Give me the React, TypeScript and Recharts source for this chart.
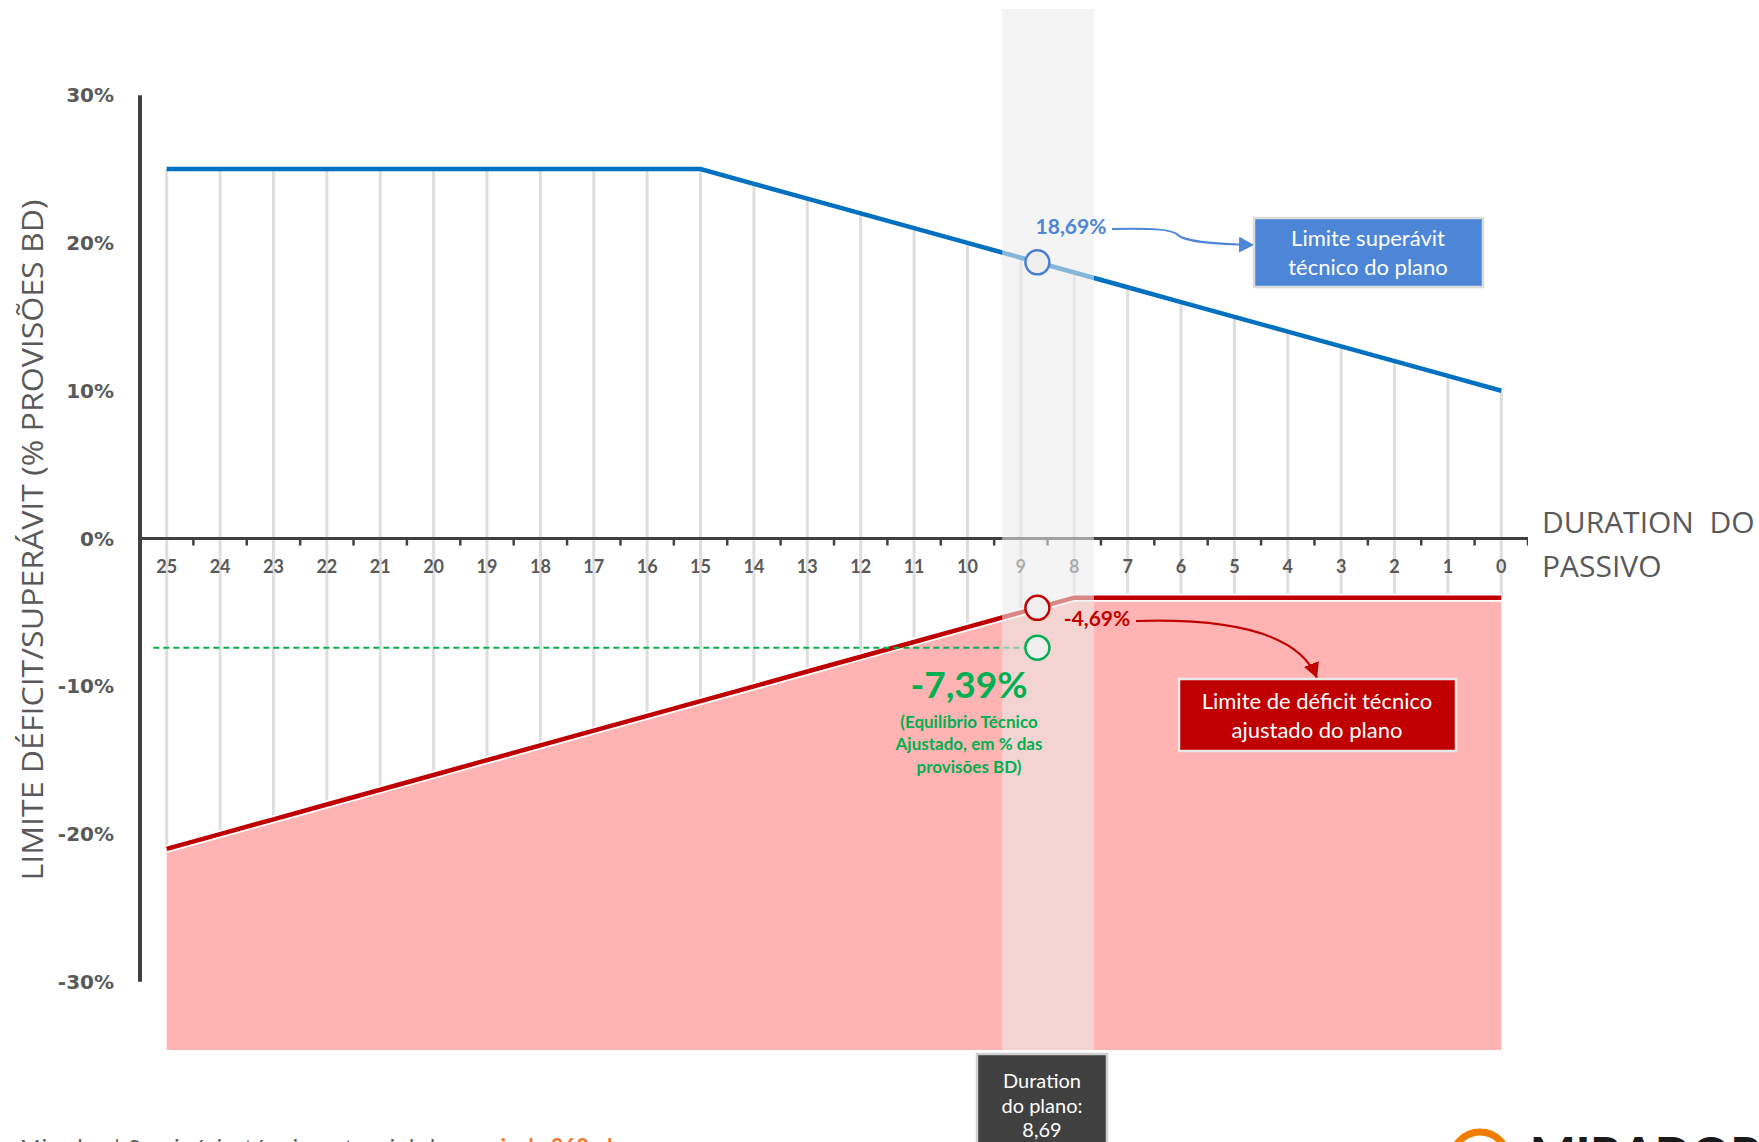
import React from "react";
import {
  ComposedChart, Line, Area, Scatter, XAxis, YAxis,
  ReferenceLine, ReferenceArea, ReferenceDot,
} from "recharts";

const W = 1759;
const H = 1142;
const GRAY = "#595959";
const AXIS = "#404040";
const BLUE = "#0070c0";
const RED = "#c00000";
const GREEN = "#00b050";
const BOX_BLUE = "#4d86d6";
const LATO = "Lato, 'Open Sans', sans-serif";

// duration do passivo (anos) – eixo invertido, 25 à esquerda
const DURATIONS = [25, 24, 23, 22, 21, 20, 19, 18, 17, 16, 15, 14, 13, 12, 11, 10, 9, 8, 7, 6, 5, 4, 3, 2, 1, 0];
// limite de superávit técnico (% provisões BD)
const SUPERAVIT = [25, 25, 25, 25, 25, 25, 25, 25, 25, 25, 25, 24, 23, 22, 21, 20, 19, 18, 17, 16, 15, 14, 13, 12, 11, 10];
// limite de déficit técnico ajustado (% provisões BD)
const DEFICIT = [-21, -20, -19, -18, -17, -16, -15, -14, -13, -12, -11, -10, -9, -8, -7, -6, -5, -4, -4, -4, -4, -4, -4, -4, -4, -4];
const Y_TICKS = [-30, -20, -10, 0, 10, 20, 30];

// situação do plano
const PLAN_DURATION = 8.69;
const PLAN_SUPERAVIT = 18.69;
const PLAN_DEFICIT = -4.69;
const PLAN_EQUILIBRIO = -7.39;
const BAND = [9.35, 7.63];
const EQ_LINE_START = 25.25;

const rows = DURATIONS.map((d, i) => ({ d, sup: SUPERAVIT[i], def: DEFICIT[i] }));
const labelRows = DURATIONS.map((d) => ({ d, zero: 0 }));
const tickRows = [...DURATIONS.map((d) => d + 0.5), -0.5].map((d) => ({ d, zero: 0 }));

const DurLabel = (p: any) => (
  <text x={p.cx} y={p.cy + 34} textAnchor="middle" fontFamily={LATO} fontWeight={700} fontSize={18} fill={GRAY}>
    {p.payload.d}
  </text>
);

const TickMark = (p: any) => (
  <line x1={p.cx} x2={p.cx} y1={p.cy} y2={p.cy + 7} stroke={AXIS} strokeWidth={2.5} />
);

function Annotations() {
  return (
    <svg width={W} height={H} style={{ position: "absolute", left: 0, top: 0, pointerEvents: "none" }}>
      <defs>
        <marker id="arrBlue" markerUnits="userSpaceOnUse" markerWidth={16} markerHeight={16} refX={15} refY={8} orient="auto">
          <path d="M0,0 L15,8 L0,16 z" fill={BOX_BLUE} />
        </marker>
        <marker id="arrRed" markerUnits="userSpaceOnUse" markerWidth={16} markerHeight={16} refX={15} refY={8} orient="auto">
          <path d="M0,0 L15,8 L0,16 z" fill={RED} />
        </marker>
      </defs>

      {/* títulos dos eixos */}
      <text
        transform="translate(43,540) rotate(-90)"
        textAnchor="middle"
        fontFamily="'Liberation Sans Narrow', 'Open Sans', sans-serif"
        fontSize={29}
        fill={GRAY}
        textLength={681}
        lengthAdjust="spacingAndGlyphs"
      >
        LIMITE DÉFICIT/SUPERÁVIT  (% PROVISÕES BD)
      </text>
      <text x={1542} y={533} fontFamily="'Open Sans', sans-serif" fontSize={30} fill={GRAY} style={{ whiteSpace: "pre" }}>
        DURATION  DO
      </text>
      <text x={1542} y={577} fontFamily="'Open Sans', sans-serif" fontSize={30} fill={GRAY}>PASSIVO</text>

      {/* superávit */}
      <text x={1071} y={234} textAnchor="middle" fontFamily={LATO} fontWeight={700} fontSize={21} fill={BOX_BLUE}>18,69%</text>
      <path d="M1112,229 C1150,228 1172,229 1178,235 C1185,242 1215,244 1254,245" fill="none" stroke={BOX_BLUE} strokeWidth={2} markerEnd="url(#arrBlue)" />
      <rect x={1254} y={218} width={229} height={69} fill={BOX_BLUE} stroke="#dcdcdc" strokeWidth={2.5} />
      <text x={1368} y={246} textAnchor="middle" fontFamily={LATO} fontSize={22} fill="#fff">Limite superávit</text>
      <text x={1368} y={275} textAnchor="middle" fontFamily={LATO} fontSize={22} fill="#fff">técnico do plano</text>

      {/* déficit */}
      <text x={1097} y={626} textAnchor="middle" fontFamily={LATO} fontWeight={700} fontSize={21} fill={RED}>-4,69%</text>
      <path d="M1136,621 C1235,618 1300,635 1317,678" fill="none" stroke={RED} strokeWidth={2.2} markerEnd="url(#arrRed)" />
      <rect x={1179} y={679} width={277} height={72} fill={RED} stroke="#e8e8e8" strokeWidth={2.5} />
      <text x={1317} y={709} textAnchor="middle" fontFamily={LATO} fontSize={22} fill="#fff">Limite de déficit técnico</text>
      <text x={1317} y={738} textAnchor="middle" fontFamily={LATO} fontSize={22} fill="#fff">ajustado do plano</text>

      {/* equilíbrio técnico */}
      <text x={969} y={698} textAnchor="middle" fontFamily={LATO} fontWeight={700} fontSize={37} fill={GREEN}>-7,39%</text>
      <text x={969} y={728} textAnchor="middle" fontFamily={LATO} fontWeight={700} fontSize={17} fill={GREEN}>(Equilíbrio Técnico</text>
      <text x={969} y={750} textAnchor="middle" fontFamily={LATO} fontWeight={700} fontSize={17} fill={GREEN}>Ajustado, em % das</text>
      <text x={969} y={773} textAnchor="middle" fontFamily={LATO} fontWeight={700} fontSize={17} fill={GREEN}>provisões BD)</text>

      {/* duration do plano */}
      <rect x={977} y={1054} width={130} height={110} fill="#404040" stroke="#d0d0d0" strokeWidth={2.5} />
      <text x={1042} y={1088} textAnchor="middle" fontFamily={LATO} fontSize={20} fill="#fff">Duration</text>
      <text x={1042} y={1113} textAnchor="middle" fontFamily={LATO} fontSize={20} fill="#fff">do plano:</text>
      <text x={1042} y={1137} textAnchor="middle" fontFamily={LATO} fontSize={20} fill="#fff">8,69</text>

      {/* rodapé */}
      <text x={20} y={1155} fontFamily={LATO} fontSize={22} fill={GRAY} textLength={429} lengthAdjust="spacing">
        Mirador | Seminário técnico atuarial do
      </text>
      <text x={471} y={1155} fontFamily={LATO} fontSize={22} fontWeight={700} fill="#ed7d31">mais de 260 planos</text>
      <path d="M1452,1160 A28,28 0 0 1 1508,1160" fill="none" stroke="#f07d00" strokeWidth={7} />
      <text x={1530} y={1172} fontFamily={LATO} fontWeight={900} fontSize={48} fill="#1a1a1a">MIRADOR</text>
    </svg>
  );
}

export default function App() {
  return (
    <div style={{ position: "absolute", left: 0, top: 0, width: W, height: H, background: "#fff", overflow: "hidden" }}>
      <ComposedChart width={W} height={H} data={rows} margin={{ top: 9, right: 231, bottom: 92, left: 0 }}>
        <XAxis type="number" dataKey="d" domain={[-0.5, 25.5]} reversed hide allowDataOverflow />
        <YAxis
          type="number"
          width={140}
          domain={[-34.61, 35.83]}
          allowDataOverflow
          ticks={Y_TICKS}
          tickFormatter={(v: number) => `${v}%`}
          axisLine={false}
          tickLine={false}
          tickSize={0}
          tickMargin={26}
          tick={{ fill: GRAY, fontSize: 20, fontWeight: 700, fontFamily: "'DejaVu Sans', sans-serif" }}
        />

        {/* linhas verticais entre os limites */}
        {rows.map((r) => (
          <ReferenceLine
            key={`drop-${r.d}`}
            segment={[{ x: r.d, y: r.def }, { x: r.d, y: r.sup }]}
            stroke="#dedede"
            strokeWidth={3}
            ifOverflow="visible"
            zIndex={100}
          />
        ))}

        <Area
          dataKey="def"
          type="linear"
          baseValue="dataMin"
          fill="#ffb3b3"
          fillOpacity={1}
          stroke="#ffffff"
          strokeWidth={8}
          isAnimationActive={false}
          zIndex={200}
        />
        <Line dataKey="sup" type="linear" stroke={BLUE} strokeWidth={4.5} dot={false} isAnimationActive={false} zIndex={300} />
        <Line dataKey="def" type="linear" stroke={RED} strokeWidth={4.5} dot={false} isAnimationActive={false} zIndex={300} />

        {/* eixos */}
        <ReferenceLine y={0} stroke={AXIS} strokeWidth={3} zIndex={400} />
        <ReferenceLine
          segment={[{ x: 25.5, y: 30 }, { x: 25.5, y: -30 }]}
          stroke={AXIS}
          strokeWidth={4}
          ifOverflow="visible"
          zIndex={400}
        />
        <Scatter data={tickRows} dataKey="zero" shape={TickMark} isAnimationActive={false} zIndex={450} />
        <Scatter data={labelRows} dataKey="zero" shape={DurLabel} isAnimationActive={false} zIndex={450} />

        <ReferenceLine
          segment={[{ x: EQ_LINE_START, y: PLAN_EQUILIBRIO }, { x: PLAN_DURATION, y: PLAN_EQUILIBRIO }]}
          stroke={GREEN}
          strokeWidth={1.8}
          strokeDasharray="6 4"
          ifOverflow="visible"
          zIndex={500}
        />

        {/* faixa da duration do plano */}
        <ReferenceArea x1={BAND[0]} x2={BAND[1]} fill="#ececec" fillOpacity={0.57} stroke="none" ifOverflow="visible" zIndex={700} />

        <ReferenceDot x={PLAN_DURATION} y={PLAN_SUPERAVIT} r={12} fill="#efefef" stroke="#4a7fd0" strokeWidth={2.5} zIndex={800} />
        <ReferenceDot x={PLAN_DURATION} y={PLAN_DEFICIT} r={12} fill="#efefef" stroke={RED} strokeWidth={2.5} zIndex={800} />
        <ReferenceDot x={PLAN_DURATION} y={PLAN_EQUILIBRIO} r={12} fill="#efefef" stroke={GREEN} strokeWidth={2.5} zIndex={800} />
      </ComposedChart>
      <Annotations />
    </div>
  );
}
